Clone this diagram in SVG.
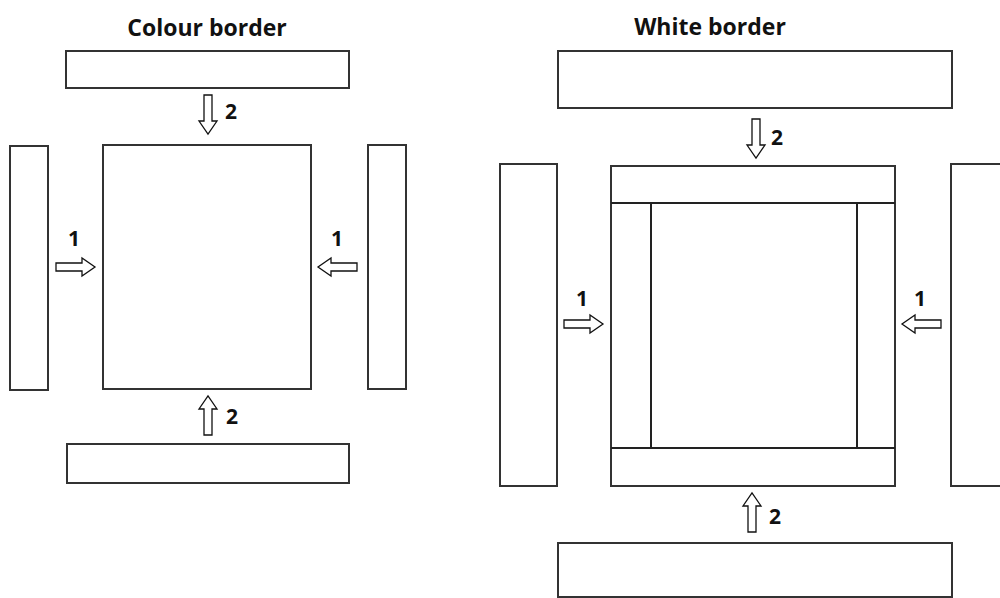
<svg xmlns="http://www.w3.org/2000/svg" width="1000" height="598" viewBox="0 0 1000 598">
<style>
.box{fill:#fff;stroke:#333;stroke-width:2}
.ln{stroke:#222;stroke-width:2;fill:none}
.arr{fill:#fff;stroke:#111;stroke-width:1.3;stroke-linejoin:miter}
.title{font-family:"Open Sans","Liberation Sans",sans-serif;font-weight:bold;font-size:23px;fill:#111;text-anchor:middle}
.num{font-family:"Open Sans","Liberation Sans",sans-serif;font-weight:bold;font-size:21px;fill:#111}
</style>
<defs>
<path id="arrow" d="M-39,-4 H-13 V-9 L0,0 L-13,9 V4 H-39 Z"/>
</defs>
<rect width="1000" height="598" fill="#fff"/>
<g id="left-panel">
<text class="title" x="207" y="36">Colour border</text>
<g id="l-top"><rect class="box" x="66" y="51" width="283" height="37"/></g>
<g id="l-center"><rect class="box" x="103" y="145" width="208" height="244"/></g>
<g id="l-left"><rect class="box" x="10" y="146" width="38" height="244"/></g>
<g id="l-right"><rect class="box" x="368" y="145" width="38" height="244"/></g>
<g id="l-bottom"><rect class="box" x="67" y="444" width="282" height="39"/></g>
</g>
<g id="right-panel">
<text class="title" x="710" y="35">White border</text>
<g id="r-top"><rect class="box" x="558" y="51" width="394" height="57"/></g>
<g id="r-left"><rect class="box" x="500" y="164" width="57" height="322"/></g>
<g id="r-center">
<rect class="box" x="611" y="166" width="284" height="320"/>
<line class="ln" x1="611" y1="203" x2="895" y2="203"/>
<line class="ln" x1="611" y1="448" x2="895" y2="448"/>
<line class="ln" x1="651" y1="203" x2="651" y2="448"/>
<line class="ln" x1="857" y1="203" x2="857" y2="448"/>
</g>
<g id="r-right"><rect class="box" x="951" y="164" width="60" height="322"/></g>
<g id="r-bottom"><rect class="box" x="558" y="543" width="394" height="54"/></g>
</g>
<g id="connectors">
<use href="#arrow" class="arr" transform="translate(208,134) rotate(90)"/>
<use href="#arrow" class="arr" transform="translate(95,267)"/>
<use href="#arrow" class="arr" transform="translate(318,267) rotate(180)"/>
<use href="#arrow" class="arr" transform="translate(208,396) rotate(-90)"/>
<use href="#arrow" class="arr" transform="translate(756,158) rotate(90)"/>
<use href="#arrow" class="arr" transform="translate(603,324)"/>
<use href="#arrow" class="arr" transform="translate(902,324) rotate(180)"/>
<use href="#arrow" class="arr" transform="translate(752,493) rotate(-90)"/>
<text class="num" x="225" y="119">2</text>
<text class="num" x="226" y="424">2</text>
<text class="num" x="68" y="246">1</text>
<text class="num" x="331" y="246">1</text>
<text class="num" x="771" y="145">2</text>
<text class="num" x="769" y="524">2</text>
<text class="num" x="576" y="306">1</text>
<text class="num" x="914" y="306">1</text>
</g>
</svg>
